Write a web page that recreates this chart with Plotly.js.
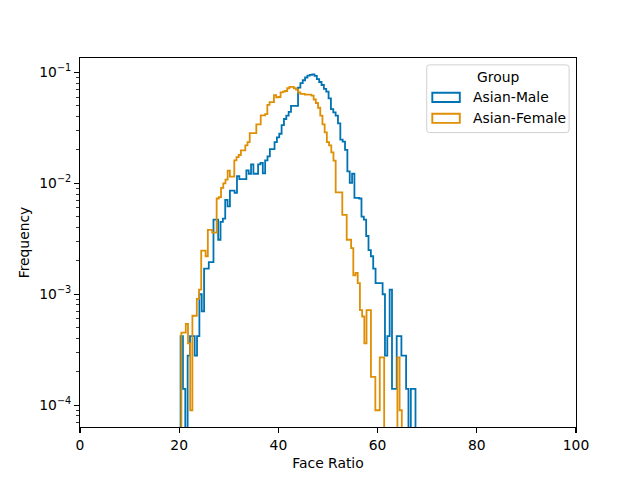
<!DOCTYPE html>
<html><head><meta charset="utf-8">
<script src="https://cdn.plot.ly/plotly-3.0.1.min.js"></script>
<style>html,body{margin:0;padding:0;background:#fff}#chart{width:640px;height:480px}</style>
</head><body><div id="chart"></div>
<script>
// ---- data ----
const groups = ['Asian-Male', 'Asian-Female'];
const legendTitle = 'Group';
const xLabel = 'Face Ratio';
const yLabel = 'Frequency';

// 100 equal-width bins per group
const maleBinStart = 20.28, maleBinWidth = 0.4736;
const femaleBinStart = 20.44, femaleBinWidth = 0.4444;

const maleDensity = [
  4.2e-4, 1.4e-4, 0, 2.8e-4, 4.2e-4, 4.2e-4, 2.8e-4, 4.2e-4, 1.0e-3, 7.0e-4,
  1.7e-3, 1.7e-3, 1.95e-3, 1.95e-3, 4.7e-3, 4.7e-3, 3.1e-3, 4.5e-3, 4.8e-3, 7.1e-3,
  6.2e-3, 8.6e-3, 8.6e-3, 8.2e-3, 1.16e-2, 1.09e-2, 1.09e-2, 1.09e-2, 1.31e-2, 1.22e-2,
  1.48e-2, 1.22e-2, 1.22e-2, 1.48e-2, 1.53e-2, 1.23e-2, 1.61e-2, 1.75e-2, 2.03e-2, 2.03e-2,
  2.35e-2, 2.6e-2, 2.8e-2, 3.35e-2, 3.8e-2, 4.07e-2, 4.4e-2, 5.0e-2, 5.0e-2, 5.0e-2,
  7.3e-2, 8.0e-2, 8.5e-2, 9.0e-2, 9.34e-2, 9.5e-2, 9.6e-2, 9.3e-2, 8.7e-2, 8.2e-2,
  7.7e-2, 7.1e-2, 6.7e-2, 5.83e-2, 4.67e-2, 4.36e-2, 4.07e-2, 3.47e-2, 2.48e-2, 2.38e-2,
  2.0e-2, 1.28e-2, 1.01e-2, 1.22e-2, 7.4e-3, 7.4e-3, 7.3e-3, 5.0e-3, 4.7e-3, 3.35e-3,
  2.5e-3, 2.2e-3, 1.7e-3, 1.26e-3, 1.26e-3, 1.26e-3, 1.0e-3, 2.8e-4, 4.2e-4, 1.1e-3,
  1.4e-4, 1.4e-4, 4.2e-4, 4.2e-4, 2.8e-4, 2.8e-4, 1.4e-4, 0, 1.4e-4, 1.4e-4
];
const femaleDensity = [
  4.5e-4, 4.5e-4, 5.4e-4, 3.6e-4, 9e-5, 6.4e-4, 6.4e-4, 9.1e-4, 1.1e-3, 2.47e-3,
  2.47e-3, 2.2e-3, 3.8e-3, 3.8e-3, 3.6e-3, 3.6e-3, 7.3e-3, 7.5e-3, 9.1e-3, 1.0e-2,
  1.08e-2, 1.3e-2, 1.15e-2, 1.15e-2, 1.61e-2, 1.72e-2, 1.8e-2, 1.98e-2, 1.98e-2, 2.2e-2,
  2.35e-2, 2.83e-2, 2.83e-2, 2.83e-2, 3.4e-2, 3.4e-2, 4.1e-2, 4.1e-2, 4.2e-2, 5.1e-2,
  5.4e-2, 5.4e-2, 6.25e-2, 5.95e-2, 6.0e-2, 6.6e-2, 6.7e-2, 6.8e-2, 7.2e-2, 7.4e-2,
  7.4e-2, 7.2e-2, 7.0e-2, 6.6e-2, 6.4e-2, 6.4e-2, 6.3e-2, 6.3e-2, 6.3e-2, 6.17e-2,
  5.7e-2, 5.3e-2, 4.8e-2, 4.07e-2, 3.4e-2, 2.88e-2, 2.35e-2, 2.2e-2, 1.9e-2, 1.6e-2,
  8.3e-3, 8.3e-3, 8.3e-3, 5.2e-3, 5.2e-3, 3.1e-3, 3.1e-3, 2.6e-3, 1.48e-3, 1.56e-3,
  1.26e-3, 7.2e-4, 6.3e-4, 3.6e-4, 7.2e-4, 7.2e-4, 1.8e-4, 1.8e-4, 9e-5, 9e-5,
  2.7e-4, 2.7e-4, 0, 0, 0, 0, 0, 0, 2.7e-4, 9e-5
];

const xTickVals = [0, 20, 40, 60, 80, 100];
const yTickVals = [1e-4, 1e-3, 1e-2, 1e-1];
const yTickText = ['10<sup>−4</sup>', '10<sup>−3</sup>', '10<sup>−2</sup>', '10<sup>−1</sup>'];
const colors = ['#0173b2', '#de8f05'];

// ---- build ----
const FONT = 'DejaVu Sans';
const FS = 13.89;

function stepTrace(start, width, vals, name, color) {
  const floor = 1e-7; // below visible range: outline drops to the axis like matplotlib's clipped zeros
  const x = [start], y = [floor];
  for (let i = 0; i < vals.length; i++) {
    x.push(start + i * width);
    y.push(vals[i] > 0 ? vals[i] : floor);
  }
  x.push(start + vals.length * width);
  y.push(floor);
  return {type: 'scatter', mode: 'lines', x: x, y: y, name: name,
          line: {color: color, width: 1.8, shape: 'hv', simplify: false},
          showlegend: false, hoverinfo: 'skip'};
}

const traces = [
  stepTrace(maleBinStart, maleBinWidth, maleDensity, groups[0], colors[0]),
  stepTrace(femaleBinStart, femaleBinWidth, femaleDensity, groups[1], colors[1])
];

const minorVals = [];
for (let d = -5; d <= -1; d++) for (let m = 2; m <= 9; m++) minorVals.push(m * Math.pow(10, d));

// plot-area pixel geometry (matplotlib default axes box)
const L = 80, R = 576, T = 57.6, B = 427.2;
const px = v => (v - L) / (R - L);
const py = v => (B - v) / (B - T);

// legend (drawn like matplotlib's: frame, title, outlined patches)
const lx0 = px(426.7), lx1 = px(569.1), ly0 = py(132.3), ly1 = py(64.5);
const rx = 2.8 / (R - L), ry = 2.8 / (B - T);
const framePath = `M ${lx0 + rx},${ly1} L ${lx1 - rx},${ly1} Q ${lx1},${ly1} ${lx1},${ly1 - ry} ` +
  `L ${lx1},${ly0 + ry} Q ${lx1},${ly0} ${lx1 - rx},${ly0} L ${lx0 + rx},${ly0} ` +
  `Q ${lx0},${ly0} ${lx0},${ly0 + ry} L ${lx0},${ly1 - ry} Q ${lx0},${ly1} ${lx0 + rx},${ly1} Z`;

const rowY = [97, 118];
const shapes = [{type: 'path', xref: 'paper', yref: 'paper', path: framePath,
                 line: {color: '#d0d0d0', width: 1}, fillcolor: 'rgba(255,255,255,0.8)', layer: 'above'}];
const annotations = [{xref: 'paper', yref: 'paper', x: px(498), y: py(76.7), text: legendTitle,
                      showarrow: false, xanchor: 'center', yanchor: 'middle',
                      font: {family: FONT, size: FS, color: '#000'}}];
groups.forEach((g, i) => {
  shapes.push({type: 'rect', xref: 'paper', yref: 'paper',
               x0: px(432.3), x1: px(459.8), y0: py(rowY[i] + 4.6), y1: py(rowY[i] - 4.6),
               line: {color: colors[i], width: 1.9}, fillcolor: 'rgba(0,0,0,0)', layer: 'above'});
  annotations.push({xref: 'paper', yref: 'paper', x: px(470.8), y: py(rowY[i]), text: g,
                    showarrow: false, xanchor: 'left', yanchor: 'middle',
                    font: {family: FONT, size: FS, color: '#000'}});
});

const layout = {
  width: 640, height: 480,
  margin: {l: L, r: 640 - R, t: T, b: 480 - B, pad: 0},
  paper_bgcolor: '#fff', plot_bgcolor: '#fff',
  font: {family: FONT, size: FS, color: '#000'},
  showlegend: false,
  xaxis: {
    range: [0, 100], tickmode: 'array', tickvals: xTickVals, ticktext: xTickVals.map(String),
    ticks: 'outside', ticklen: 4.86, tickwidth: 1.1, tickcolor: '#000',
    showline: true, linecolor: '#000', linewidth: 1.1, mirror: true,
    showgrid: false, zeroline: false,
    tickfont: {family: FONT, size: FS, color: '#000'},
    title: {text: xLabel, font: {family: FONT, size: FS, color: '#000'}, standoff: 6}
  },
  yaxis: {
    type: 'log', range: [-4.197, -0.870],
    tickmode: 'array', tickvals: yTickVals, ticktext: yTickText,
    ticks: 'outside', ticklen: 4.86, tickwidth: 1.1, tickcolor: '#000',
    minor: {tickmode: 'array', tickvals: minorVals, ticks: 'outside', ticklen: 2.8, tickwidth: 0.8, tickcolor: '#000', showgrid: false},
    showline: true, linecolor: '#000', linewidth: 1.1, mirror: true,
    showgrid: false, zeroline: false,
    tickfont: {family: FONT, size: FS, color: '#000'},
    title: {text: yLabel, font: {family: FONT, size: FS, color: '#000'}, standoff: 6}
  },
  shapes: shapes,
  annotations: annotations
};

Plotly.newPlot('chart', traces, layout, {staticPlot: true, displayModeBar: false});
</script>
</body></html>
